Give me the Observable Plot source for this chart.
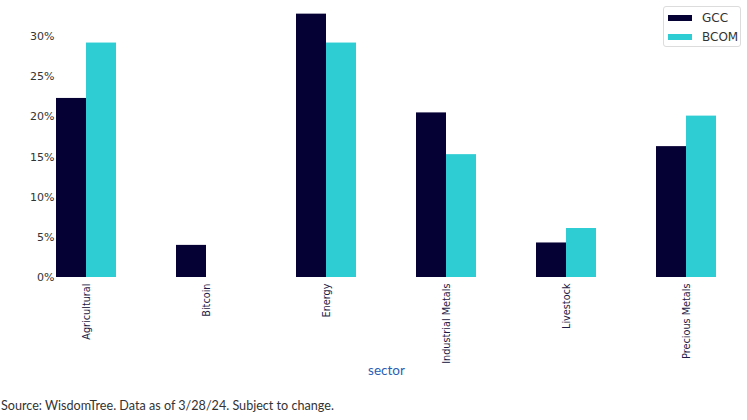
<!DOCTYPE html>
<html>
<head>
<meta charset="utf-8">
<script src="https://cdn.jsdelivr.net/npm/d3@7"></script>
<script src="https://cdn.jsdelivr.net/npm/@observablehq/plot@0.6"></script>
<style>
  body { margin: 0; background: #fff; }
  #wrap { position: relative; width: 747px; height: 420px; }
  #legend {
    position: absolute; left: 663px; top: 6px; width: 76px; height: 39px;
    border: 1px solid #dcdcdc; border-radius: 3px; background: #fff;
    font: 12px "DejaVu Sans", sans-serif; color: #333;
  }
  #legend .row { position: absolute; left: 4px; height: 14px; display: flex; align-items: center; }
  #legend .sw { width: 24px; height: 6px; margin-right: 10px; }
  #caption {
    position: absolute; left: 1px; top: 398px;
    font: 12.6px Lato, sans-serif; color: #333;
  }
</style>
</head>
<body>
<div id="wrap">
  <div id="chart"></div>
  <div id="legend"></div>
  <div id="caption">Source: WisdomTree. Data as of 3/28/24. Subject to change.</div>
</div>
<script>
// Sector weights (%) for the two indexes
const sectors = ["Agricultural", "Bitcoin", "Energy", "Industrial Metals", "Livestock", "Precious Metals"];
const series = ["GCC", "BCOM"];
const colors = ["#060135", "#2ecdd4"];
const gcc = [22.3, 4.0, 32.8, 20.5, 4.3, 16.3];
const bcom = [29.2, null, 29.2, 15.3, 6.1, 20.1];
const yTicks = [0, 5, 10, 15, 20, 25, 30];

const rows = [];
sectors.forEach((s, i) => {
  if (gcc[i] != null) rows.push({sector: s, series: "GCC", value: gcc[i]});
  if (bcom[i] != null) rows.push({sector: s, series: "BCOM", value: bcom[i]});
});

const chart = Plot.plot({
  width: 747,
  height: 385,
  marginLeft: 25,
  marginRight: 1,
  marginTop: 4,
  marginBottom: 108,
  style: {fontFamily: "DejaVu Sans, sans-serif", fontSize: "11px", color: "#333", background: "#fff"},
  fx: {domain: sectors, paddingInner: 0.5, paddingOuter: 0.25, label: null},
  x: {domain: series, padding: 0, axis: null},
  y: {domain: [0, 34], label: null},
  color: {domain: series, range: colors},
  marks: [
    Plot.barY(rows, {fx: "sector", x: "series", y: "value", fill: "series"}),
    Plot.axisY({ticks: yTicks, tickFormat: d => d + "%", tickSize: 0, tickPadding: 2, label: null}),
    Plot.axisFx({anchor: "bottom", tickSize: 0, tickPadding: 6, tickRotate: -90, fontSize: 9.7, fill: "#1c1c48", label: null})
  ]
});
document.getElementById("chart").appendChild(chart);

// axis title under the sector labels
const t = document.createElementNS("http://www.w3.org/2000/svg", "text");
t.setAttribute("x", 386.5);
t.setAttribute("y", 375);
t.setAttribute("text-anchor", "middle");
t.setAttribute("font-family", "Lato, sans-serif");
t.setAttribute("font-size", "13.5");
t.setAttribute("fill", "#2a5db5");
t.textContent = "sector";
chart.appendChild(t);

// legend
const legend = document.getElementById("legend");
series.forEach((s, i) => {
  const row = document.createElement("div");
  row.className = "row";
  row.style.top = (4 + i * 19) + "px";
  const sw = document.createElement("span");
  sw.className = "sw";
  sw.style.background = colors[i];
  const lab = document.createElement("span");
  lab.textContent = s;
  row.appendChild(sw);
  row.appendChild(lab);
  legend.appendChild(row);
});
</script>
</body>
</html>
